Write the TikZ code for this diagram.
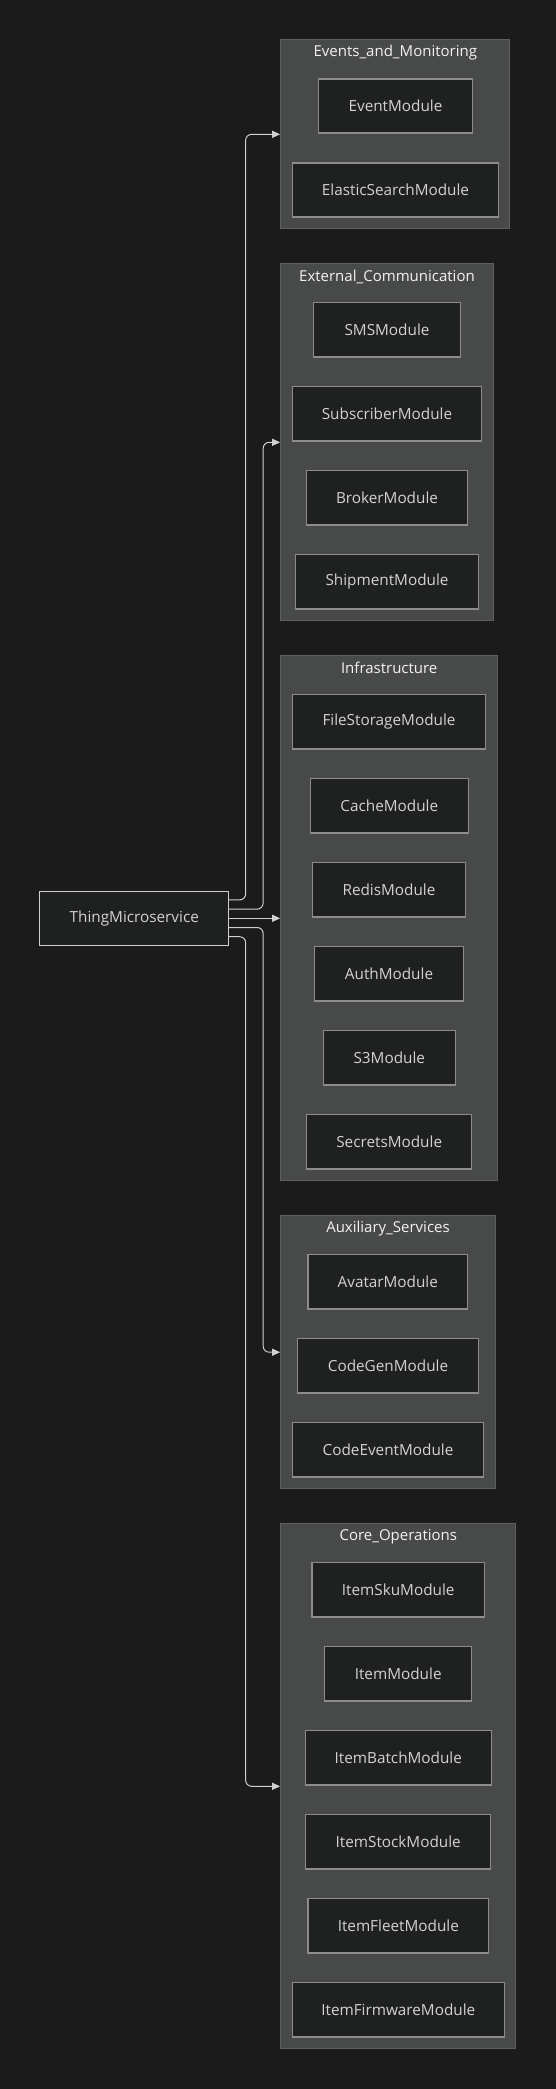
\documentclass[tikz,border=0pt]{standalone}
\usepackage{fontspec}
\setmainfont{Open Sans}
\usetikzlibrary{arrows.meta,calc}
\definecolor{bgc}{HTML}{1B1B1B}
\definecolor{clfill}{HTML}{484A49}
\definecolor{cldraw}{HTML}{5E605F}
\definecolor{ndfill}{HTML}{1F2120}
\definecolor{nddraw}{HTML}{8C8C8C}
\definecolor{ndtext}{HTML}{D2D2D2}
\definecolor{ttext}{HTML}{F2F2F2}
\definecolor{edgec}{HTML}{D0D0D0}
\tikzset{
  mod/.style={draw=nddraw, line width=1.4pt, fill=ndfill, text=ndtext, inner sep=0pt, minimum height=54.3, font=\fontsize{15.3}{17}\selectfont},
  mainnode/.style={draw=edgec, line width=1pt, fill=ndfill, text=ndtext, inner sep=0pt, font=\fontsize{15.3}{17}\selectfont},
  cluster/.style={draw=cldraw, line width=1pt, fill=clfill, inner sep=0pt},
  ctitle/.style={text=ttext, inner sep=0pt, font=\fontsize{15}{17}\selectfont},
  edge/.style={draw=edgec, line width=1pt, rounded corners=6pt, -{Triangle[length=8pt,width=7pt]}}
}
\begin{document}
\begin{tikzpicture}[x=1pt,y=-1pt]
\fill[bgc] (0,0) rectangle (556,2089);
\useasboundingbox (0,0) rectangle (556,2089);

% clusters
\node[cluster, minimum width=229.3, minimum height=188.7] (evc) at (395.3,134.3) {};
\node[ctitle] (evt) at (395.3,53) {Events\_and\_Monitoring};
\node[cluster, minimum width=212.6, minimum height=356.7] (exc) at (387,442.3) {};
\node[ctitle] (ext) at (387,277) {External\_Communication};
\node[cluster, minimum width=217, minimum height=525] (inc) at (389.2,918.2) {};
\node[ctitle] (intt) at (389.2,668.3) {Infrastructure};
\node[cluster, minimum width=214.6, minimum height=273] (auc) at (388,1352.2) {};
\node[ctitle] (aut) at (388,1229) {Auxiliary\_Services};
\node[cluster, minimum width=235.3, minimum height=524.7] (coc) at (398.3,1786.3) {};
\node[ctitle] (cot) at (398.3,1536.7) {Core\_Operations};

% Events
\node[mod, minimum width=153.6] (ev) at (395.5,106) {EventModule};
\node[mod, minimum width=205.6] (es) at (395.5,190) {ElasticSearchModule};
% External
\node[mod, minimum width=146.6] (sms) at (387,329.8) {SMSModule};
\node[mod, minimum width=188.6] (sub) at (387,413.8) {SubscriberModule};
\node[mod, minimum width=160.6] (bro) at (387,497.8) {BrokerModule};
\node[mod, minimum width=182.6] (shi) at (387,581.8) {ShipmentModule};
% Infrastructure
\node[mod, minimum width=193.4] (fs) at (389,721.8) {FileStorageModule};
\node[mod, minimum width=158] (ca) at (389.3,805.8) {CacheModule};
\node[mod, minimum width=152.6] (re) at (389,889.8) {RedisModule};
\node[mod, minimum width=148.6] (au) at (389,973.8) {AuthModule};
\node[mod, minimum width=132] (s3) at (389.3,1057.8) {S3Module};
\node[mod, minimum width=165] (se) at (389.2,1141.8) {SecretsModule};
% Auxiliary
\node[mod, minimum width=159.7] (av) at (387.8,1281.8) {AvatarModule};
\node[mod, minimum width=180.6] (cg) at (388,1365.8) {CodeGenModule};
\node[mod, minimum width=190.6] (ce) at (388,1449.8) {CodeEventModule};
% Core
\node[mod, minimum width=172.3] (sku) at (398.2,1589.8) {ItemSkuModule};
\node[mod, minimum width=147] (it) at (398.2,1673.8) {ItemModule};
\node[mod, minimum width=186] (ib) at (398.3,1757.8) {ItemBatchModule};
\node[mod, minimum width=185] (is) at (398.2,1841.8) {ItemStockModule};
\node[mod, minimum width=180.7] (ifl) at (398.3,1925.8) {ItemFleetModule};
\node[mod, minimum width=212] (ifw) at (398.3,2009.8) {ItemFirmwareModule};

% main
\node[mainnode, minimum width=188.7, minimum height=54] (main) at (134.3,918.3) {ThingMicroservice};

% edges
\draw[edge] ($(main.east)+(0,-18.4)$) -- ++(16.5,0) |- (evc.west);
\draw[edge] ($(main.east)+(0,-9.2)$) -- ++(34,0) |- (exc.west);
\draw[edge] (main.east) -- (main.east -| inc.west);
\draw[edge] ($(main.east)+(0,9.2)$) -- ++(34,0) |- (auc.west);
\draw[edge] ($(main.east)+(0,18.4)$) -- ++(16.5,0) |- (coc.west);
\end{tikzpicture}
\end{document}
